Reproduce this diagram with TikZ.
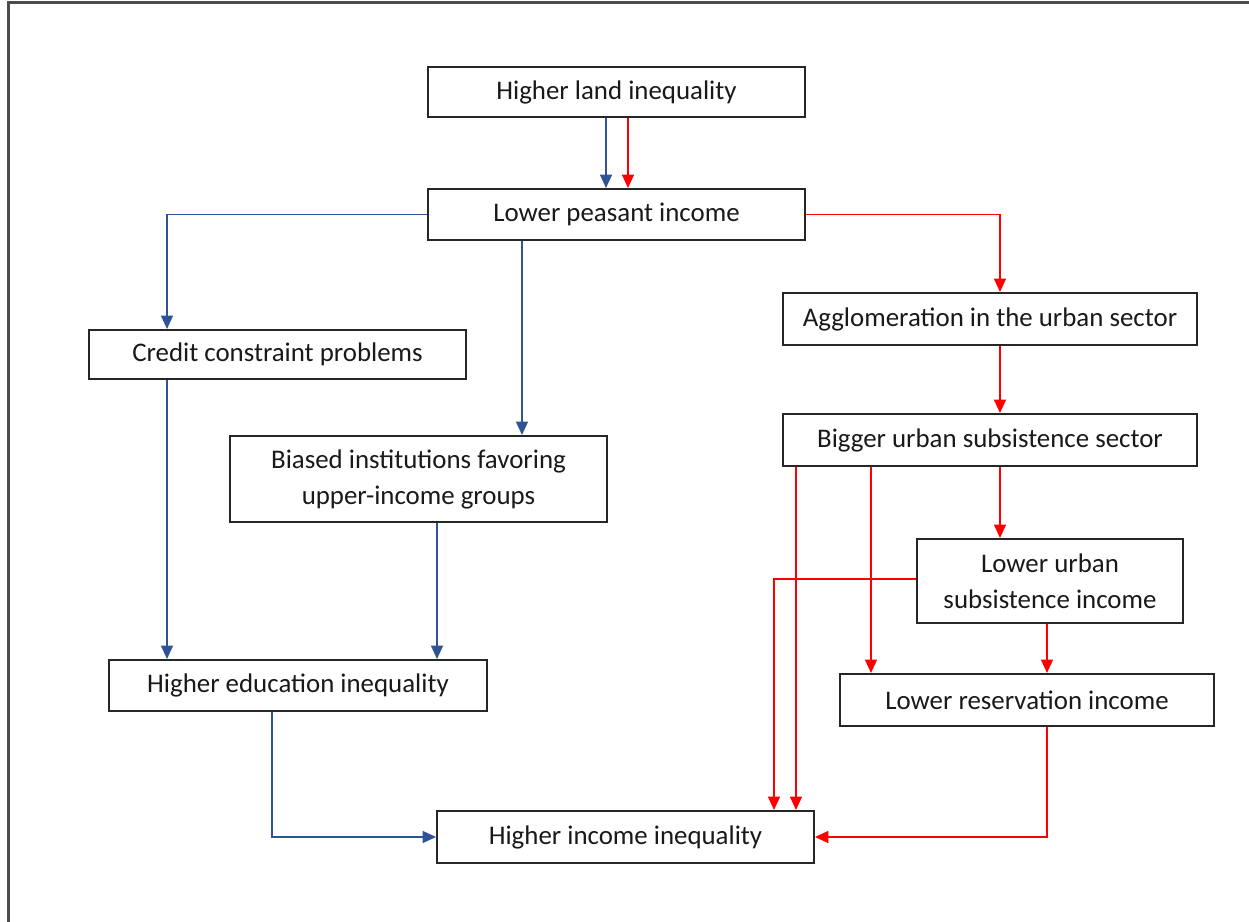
\documentclass[tikz,border=0pt]{standalone}
\usepackage{fontspec}
\setmainfont{Carlito}
\usetikzlibrary{arrows.meta}
\definecolor{cblue}{RGB}{47,84,150}
\definecolor{cred}{RGB}{255,0,0}
\begin{document}
\begin{tikzpicture}[x=0.02cm,y=-0.02cm,
  box/.style={draw=black!85, line width=1.1pt, align=center, inner sep=0pt,
    font=\fontsize{15.3}{20.5}\selectfont, text=black!90},
  tip/.style={-{Triangle[length=0.27cm,width=0.24cm]}},
  bl/.style={draw=cblue, line width=0.9pt, tip},
  rd/.style={draw=cred, line width=0.9pt, tip}]
\useasboundingbox (0,0) rectangle (1249,922);
\draw[line width=1.3pt, black!70] (8.5,922) -- (8.5,2.5) -- (1249,2.5);

\node[box, minimum width=7.54cm, minimum height=1.0cm] (land) at (616.5,92) {Higher land inequality};
\node[box, minimum width=7.54cm, minimum height=1.02cm] (peas) at (616.5,214.5) {Lower peasant income};
\node[box, minimum width=8.28cm, minimum height=1.04cm] (aggl) at (990,319) {Agglomeration in the urban sector};
\node[box, minimum width=7.54cm, minimum height=0.98cm] (cred) at (277.5,354.5) {Credit constraint problems};
\node[box, minimum width=7.54cm, minimum height=1.72cm] (bias) at (418.5,479) {Biased institutions favoring\\upper-income groups};
\node[box, minimum width=8.28cm, minimum height=1.04cm] (big) at (990,440) {Bigger urban subsistence sector};
\node[box, minimum width=5.32cm, minimum height=1.68cm] (lus) at (1050,581) {Lower urban\\subsistence income};
\node[box, minimum width=7.48cm, minimum height=1.04cm] (res) at (1027,700) {Lower reservation income};
\node[box, minimum width=7.56cm, minimum height=1.02cm] (edu) at (298,685.5) {Higher education inequality};
\node[box, minimum width=7.54cm, minimum height=1.04cm] (inc) at (625.5,837) {Higher income inequality};

\coordinate (xb1) at (606,0);
\coordinate (xr1) at (628,0);
\coordinate (xcred) at (167,0);
\coordinate (xbias) at (522,0);
\coordinate (xagg) at (1000,0);
\coordinate (xbe) at (437,0);
\coordinate (xedu) at (272,0);
\coordinate (xl1) at (774,0);
\coordinate (xl2) at (796,0);
\coordinate (xl3) at (871,0);
\coordinate (xl4) at (1047,0);
\coordinate (ylus) at (0,579);

\draw[bl] (land.south -| xb1) -- (peas.north -| xb1);
\draw[rd] (land.south -| xr1) -- (peas.north -| xr1);
\draw[bl] (peas.west) -| (cred.north -| xcred);
\draw[bl] (peas.south -| xbias) -- (bias.north -| xbias);
\draw[rd] (peas.east) -| (aggl.north -| xagg);
\draw[rd] (aggl.south -| xagg) -- (big.north -| xagg);
\draw[bl] (cred.south -| xcred) -- (edu.north -| xcred);
\draw[bl] (bias.south -| xbe) -- (edu.north -| xbe);
\draw[bl] (edu.south -| xedu) |- (inc.west);
\draw[rd] (big.south -| xagg) -- (lus.north -| xagg);
\draw[rd] (big.south -| xl2) -- (inc.north -| xl2);
\draw[rd] (big.south -| xl3) -- (res.north -| xl3);
\draw[rd] (lus.west |- ylus) -| (inc.north -| xl1);
\draw[rd] (lus.south -| xl4) -- (res.north -| xl4);
\draw[rd] (res.south -| xl4) |- (inc.east);
\end{tikzpicture}
\end{document}
